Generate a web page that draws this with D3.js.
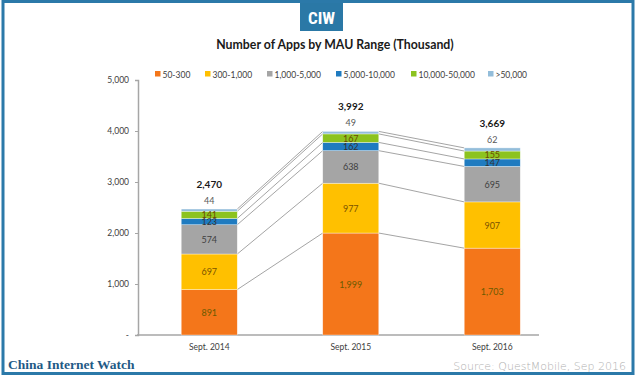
<!DOCTYPE html>
<html><head><meta charset="utf-8">
<script src="https://cdn.jsdelivr.net/npm/d3@7"></script>
<style>html,body{margin:0;padding:0;background:#fff;}svg{display:block;}</style>
</head><body>
<svg id="c" width="638" height="381"></svg>
<script>
const categories = ["Sept. 2014", "Sept. 2015", "Sept. 2016"];
const seriesNames = ["50-300", "300-1,000", "1,000-5,000", "5,000-10,000", "10,000-50,000", ">50,000"];
const s50_300 = [891, 1999, 1703];
const s300_1000 = [697, 977, 907];
const s1000_5000 = [574, 638, 695];
const s5000_10000 = [123, 162, 147];
const s10000_50000 = [141, 167, 155];
const s50000plus = [44, 49, 62];
const yTicks = [0, 1000, 2000, 3000, 4000, 5000];

const seriesValues = [s50_300, s300_1000, s1000_5000, s5000_10000, s10000_50000, s50000plus];
const colors = ["#F4761A", "#FFC000", "#A5A5A5", "#1F7BC0", "#8CC31F", "#93BDDA"];
const labelColors = ["#6b5a00", "#7a5200", "#404040", "#333333", "#6b4a00", "#595959"];

const svg = d3.select("#c");
const font = "Lato, 'Open Sans', sans-serif";

// frame
svg.append("rect").attr("x", 3).attr("y", 1.5).attr("width", 630).attr("height", 372)
  .attr("fill", "none").attr("stroke", "#2b79a9").attr("stroke-width", 3);

// logo
svg.append("rect").attr("x", 300).attr("y", 3).attr("width", 43).attr("height", 28).attr("fill", "#2a78a6");
svg.append("text").attr("x", 321.5).attr("y", 24).attr("text-anchor", "middle")
  .attr("font-family", "'Liberation Sans Narrow', 'Roboto Condensed', sans-serif").attr("font-weight", "bold")
  .attr("font-size", 17).attr("fill", "#fff").text("CIW");

// title
svg.append("text").attr("x", 335).attr("y", 49).attr("text-anchor", "middle")
  .attr("font-family", font).attr("font-weight", "bold").attr("font-size", 12.3).attr("fill", "#1a1a1a")
  .text("Number of Apps by MAU Range (Thousand)");

const y = d3.scaleLinear().domain([0, 5000]).range([335, 80]);
const x = d3.scaleBand().domain(categories).range([138.5, 563]).paddingInner(0.604).paddingOuter(0.302);

// y axis
const yAxis = d3.axisLeft(y).tickValues(yTicks).tickSize(3).tickPadding(6)
  .tickFormat(d => d === 0 ? "-" : d3.format(",")(d));
const ya = svg.append("g").attr("transform", "translate(138,0)").call(yAxis);
ya.select(".domain").attr("stroke", "#a6a6a6").attr("stroke-width", 1.5);
ya.selectAll(".tick line").attr("stroke", "#a6a6a6");
ya.selectAll(".tick text").attr("font-family", font).attr("font-size", 8.5).attr("fill", "#404040");

// x axis line
svg.append("line").attr("x1", 137).attr("x2", 539).attr("y1", y(0)).attr("y2", y(0))
  .attr("stroke", "#a6a6a6").attr("stroke-width", 1.5);
svg.append("g").selectAll("text").data(categories).join("text")
  .attr("x", d => x(d) + x.bandwidth() / 2).attr("y", 350).attr("text-anchor", "middle")
  .attr("font-family", font).attr("font-size", 8.5).attr("fill", "#404040").text(d => d);

// stack
const rows = categories.map((c, i) => {
  const o = { cat: c };
  seriesNames.forEach((s, j) => o[s] = seriesValues[j][i]);
  return o;
});
const stack = d3.stack().keys(seriesNames)(rows);

// connector lines
const conn = svg.append("g");
stack.forEach((layer, j) => {
  for (let i = 0; i < categories.length - 1; i++) {
    conn.append("line")
      .attr("x1", x(categories[i]) + x.bandwidth()).attr("y1", y(layer[i][1]))
      .attr("x2", x(categories[i + 1])).attr("y2", y(layer[i + 1][1]))
      .attr("stroke", "#9a9a9a").attr("stroke-width", 0.9);
  }
});

// bars
stack.forEach((layer, j) => {
  svg.append("g").selectAll("rect").data(layer).join("rect")
    .attr("x", d => x(d.data.cat)).attr("width", x.bandwidth())
    .attr("y", d => y(d[1])).attr("height", d => y(d[0]) - y(d[1]))
    .attr("fill", colors[j]).attr("stroke", "rgba(255,255,255,0.6)").attr("stroke-width", 0.6);
});

// segment labels
stack.forEach((layer, j) => {
  svg.append("g").selectAll("text").data(layer).join("text")
    .attr("x", d => x(d.data.cat) + x.bandwidth() / 2)
    .attr("y", d => j === 5 ? y(d[1]) - 5 : (y(d[0]) + y(d[1])) / 2 + 3.5)
    .attr("text-anchor", "middle").attr("font-family", font).attr("font-size", 9)
    .attr("fill", labelColors[j])
    .text(d => d3.format(",")(d[1] - d[0]));
});

// totals
const totals = categories.map((c, i) => d3.sum(seriesValues, s => s[i]));
svg.append("g").selectAll("text").data(totals).join("text")
  .attr("x", (d, i) => x(categories[i]) + x.bandwidth() / 2)
  .attr("y", d => y(d) - 21)
  .attr("text-anchor", "middle").attr("font-family", font).attr("font-weight", "bold").attr("font-size", 10)
  .attr("fill", "#1a1a1a").text(d => d3.format(",")(d));

// legend
const legendX = [155, 205, 267, 336, 411, 488];
const lg = svg.append("g");
seriesNames.forEach((s, j) => {
  lg.append("rect").attr("x", legendX[j]).attr("y", 71).attr("width", 5.5).attr("height", 5.5).attr("fill", colors[j]);
  lg.append("text").attr("x", legendX[j] + 7.5).attr("y", 77.5).attr("font-family", font).attr("font-size", 8.5)
    .attr("fill", "#404040").text(s);
});

// footer
svg.append("text").attr("x", 8).attr("y", 369).attr("font-family", "'Liberation Serif', serif").attr("font-weight", "bold")
  .attr("font-size", 13.5).attr("fill", "#1f5a86").text("China Internet Watch");
svg.append("text").attr("x", 626).attr("y", 370).attr("text-anchor", "end").attr("font-family", "'DejaVu Sans', sans-serif")
  .attr("font-weight", 200).attr("font-size", 11).attr("fill", "#b0b0b0").text("Source: QuestMobile, Sep 2016");
</script>
</body></html>
